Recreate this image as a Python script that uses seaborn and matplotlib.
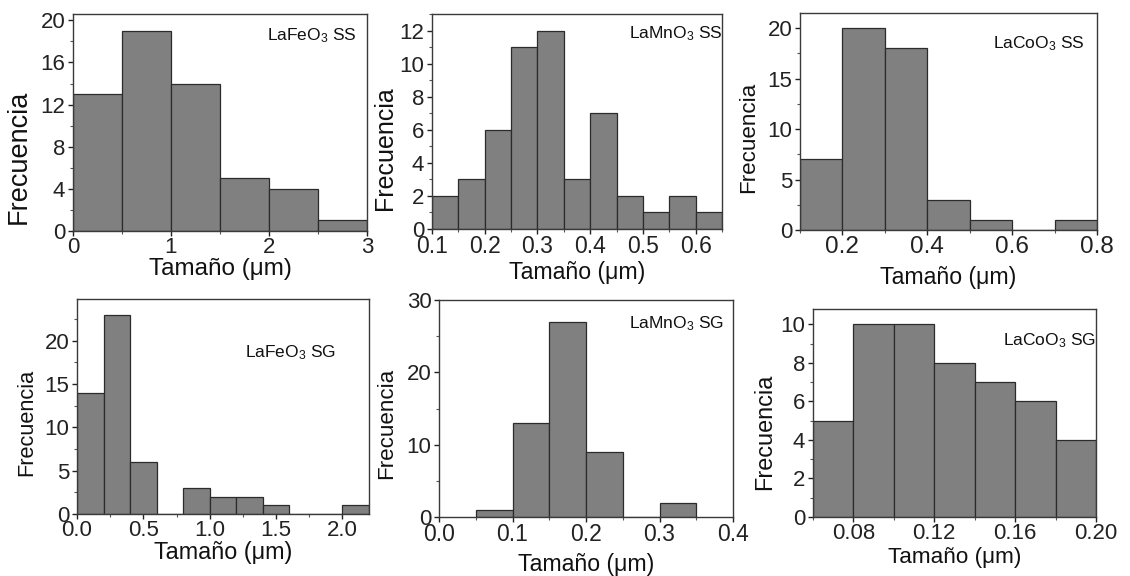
import numpy as np
import matplotlib
matplotlib.use("Agg")
import matplotlib.pyplot as plt
import seaborn as sns
from matplotlib.ticker import MultipleLocator, FormatStrFormatter

# ---- data (bin edges and counts) ----
fe_ss_edges = [0.0, 0.5, 1.0, 1.5, 2.0, 2.5, 3.0]
fe_ss_counts = [13, 19, 14, 5, 4, 1]

mn_ss_edges = [0.10, 0.15, 0.20, 0.25, 0.30, 0.35, 0.40, 0.45, 0.50, 0.55, 0.60, 0.65]
mn_ss_counts = [2, 3, 6, 11, 12, 3, 7, 2, 1, 2, 1]

co_ss_edges = [0.1, 0.2, 0.3, 0.4, 0.5, 0.6, 0.7, 0.8]
co_ss_counts = [7, 20, 18, 3, 1, 0, 1]

fe_sg_edges = [0.0, 0.2, 0.4, 0.6, 0.8, 1.0, 1.2, 1.4, 1.6, 1.8, 2.0, 2.2]
fe_sg_counts = [14, 23, 6, 0, 3, 2, 2, 1, 0, 0, 1]

mn_sg_edges = [0.05, 0.10, 0.15, 0.20, 0.25, 0.30, 0.35]
mn_sg_counts = [1, 13, 27, 9, 0, 2]

co_sg_edges = [0.06, 0.08, 0.10, 0.12, 0.14, 0.16, 0.18, 0.20]
co_sg_counts = [5, 10, 10, 8, 7, 6, 4]

labels = [r"LaFeO$_3$ SS", r"LaMnO$_3$ SS", r"LaCoO$_3$ SS",
          r"LaFeO$_3$ SG", r"LaMnO$_3$ SG", r"LaCoO$_3$ SG"]
x_label = "Tamaño (μm)"
y_label = "Frecuencia"

# ---- style ----
sns.set_style("ticks")
plt.rcParams["font.family"] = ["Liberation Sans", "DejaVu Sans"]
plt.rcParams["mathtext.default"] = "regular"

fig = plt.figure(figsize=(11.3, 5.76), dpi=100)
W, H = 1130, 576

def add_ax(l, r, t, b):
    return fig.add_axes([l / W, 1 - b / H, (r - l) / W, (b - t) / H])

panels = [
    # edges, counts, box px, xlim, ylim, xticks, xminor, ymaj, ymin, xfmt,
    # text pos, ylabel (size, x, y), xlabel (size, y), xtick size
    (fe_ss_edges, fe_ss_counts, (73, 367, 14, 231), (0, 3), (0, 20.6), [0, 1, 2, 3], 0.5, 4, 2, "%d",
     (0.66, 0.90), (19.5, -0.139, 0.341), (17.5, -0.175), 16),
    (mn_ss_edges, mn_ss_counts, (432, 722, 14, 229), (0.1, 0.65), (0, 13), [0.1, 0.2, 0.3, 0.4, 0.5, 0.6], 0.05, 2, 1, "%.1f",
     (0.68, 0.91), (18, -0.121, 0.377), (16.7, -0.20), 16.5),
    (co_ss_edges, co_ss_counts, (800, 1097, 13, 230), (0.1, 0.8), (0, 21.5), [0.2, 0.4, 0.6, 0.8], 0.1, 5, 2.5, "%.1f",
     (0.65, 0.86), (16.1, -0.138, 0.429), (16.7, -0.221), 17.5),
    (fe_sg_edges, fe_sg_counts, (77, 369, 299, 514), (0, 2.2), (0, 24.8), [0.0, 0.5, 1.0, 1.5, 2.0], 0.25, 5, 2.5, "%.1f",
     (0.575, 0.75), (15.7, -0.137, 0.428), (16.8, -0.178), 16),
    (mn_sg_edges, mn_sg_counts, (439, 733, 300, 517), (0, 0.4), (0, 30), [0.0, 0.1, 0.2, 0.3, 0.4], 0.05, 10, 5, "%.1f",
     (0.646, 0.89), (16.1, -0.143, 0.433), (16.7, -0.217), 16.5),
    (co_sg_edges, co_sg_counts, (813, 1096, 309, 517), (0.06, 0.20), (0, 10.8), [0.08, 0.12, 0.16, 0.20], 0.02, 2, 1, "%.2f",
     (0.67, 0.85), (16.9, -0.131, 0.409), (16.2, -0.195), 16),
]

bar_color = "#808080"
edge_color = "#2b2b2b"

for i, (edges, counts, box, xlim, ylim, xticks, xmin, ymaj, ymin, xfmt,
        tpos, ylab, xlab, xts) in enumerate(panels):
    ax = add_ax(*box)
    edges_a = np.array(edges)
    centers = (edges_a[:-1] + edges_a[1:]) / 2
    sns.histplot(x=centers, weights=counts, bins=edges, ax=ax,
                 color=bar_color, alpha=1.0, edgecolor=edge_color, linewidth=0.9)
    ax.set_xlim(*xlim)
    ax.set_ylim(*ylim)
    ax.set_xticks(xticks)
    ax.xaxis.set_minor_locator(MultipleLocator(xmin))
    ax.yaxis.set_major_locator(MultipleLocator(ymaj))
    ax.yaxis.set_minor_locator(MultipleLocator(ymin))
    ax.xaxis.set_major_formatter(FormatStrFormatter(xfmt))
    ax.tick_params(which="major", direction="out", length=3.5, width=1, colors="#222222", pad=2)
    ax.tick_params(axis="y", which="major", labelsize=16)
    ax.tick_params(axis="x", which="major", labelsize=xts, pad=1)
    ax.tick_params(which="minor", direction="out", length=2.2, width=0.8, colors="#555555")
    for s in ax.spines.values():
        s.set_visible(True)
        s.set_color("#3a3a3a")
        s.set_linewidth(1.0)
    ax.set_xlabel(x_label, fontsize=xlab[0], color="#111111")
    ax.xaxis.label.set_va("center")
    ax.xaxis.set_label_coords(0.5, xlab[1])
    ax.set_ylabel(y_label, fontsize=ylab[0], color="#111111")
    ax.yaxis.set_label_coords(ylab[1], ylab[2])
    ax.text(tpos[0], tpos[1], labels[i], transform=ax.transAxes,
            ha="left", va="center", fontsize=12.5, color="#111111")

fig.savefig("out.png", dpi=100, facecolor="white")
